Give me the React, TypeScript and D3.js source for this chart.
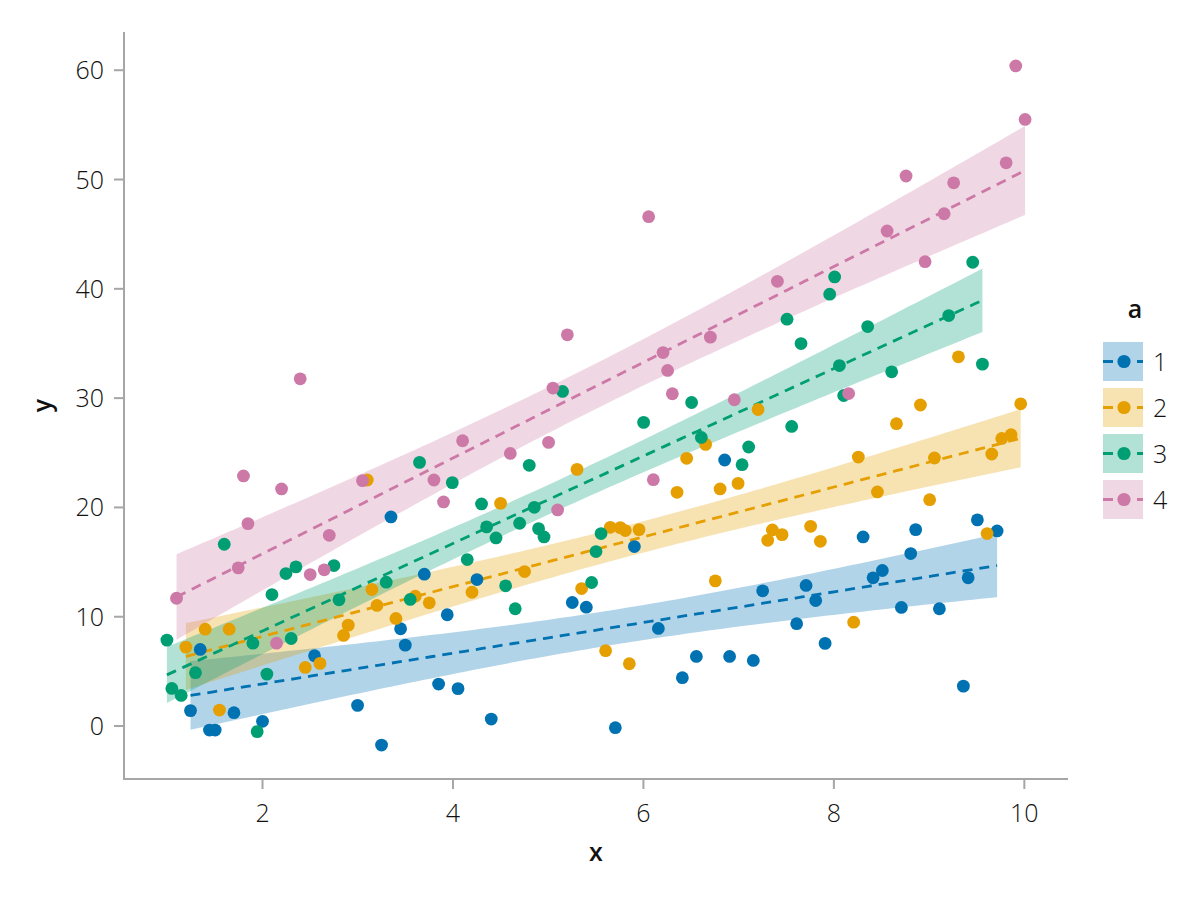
import React from "react";
import * as d3 from "d3";

// ---- data ----
const groupLabels = ["1", "2", "3", "4"];
const groupColors = ["#0072B2", "#E69F00", "#009E73", "#CC79A7"];

const x1 = [1.244, 1.346, 1.443, 1.503, 1.7, 2.0, 2.546, 2.998, 3.25, 3.349, 3.45, 3.499, 3.699, 3.849, 3.94, 4.053, 4.252, 4.402, 5.253, 5.4, 5.705, 5.905, 6.157, 6.409, 6.556, 6.853, 6.905, 7.154, 7.252, 7.609, 7.708, 7.809, 7.908, 8.307, 8.412, 8.509, 8.709, 8.807, 8.859, 9.108, 9.36, 9.41, 9.507, 9.714];
const y1 = [1.41, 7.01, -0.37, -0.37, 1.22, 0.43, 6.43, 1.89, -1.74, 19.13, 8.9, 7.4, 13.89, 3.84, 10.18, 3.42, 13.4, 0.64, 11.3, 10.87, -0.15, 16.42, 8.93, 4.42, 6.37, 24.34, 6.37, 6.0, 12.37, 9.36, 12.86, 11.48, 7.56, 17.3, 13.56, 14.23, 10.85, 15.78, 17.97, 10.73, 3.65, 13.56, 18.86, 17.85];

const x2 = [1.195, 1.398, 1.548, 1.65, 2.449, 2.603, 2.851, 2.9, 3.1, 3.149, 3.202, 3.401, 3.604, 3.751, 4.2, 4.5, 4.752, 5.303, 5.351, 5.603, 5.652, 5.757, 5.81, 5.852, 5.954, 6.353, 6.454, 6.653, 6.755, 6.805, 6.994, 7.204, 7.305, 7.354, 7.456, 7.756, 7.858, 8.208, 8.257, 8.457, 8.657, 8.909, 9.006, 9.056, 9.308, 9.609, 9.658, 9.763, 9.861, 9.962];
const y2 = [7.22, 8.86, 1.46, 8.86, 5.36, 5.73, 8.29, 9.23, 22.51, 12.49, 11.03, 9.84, 11.88, 11.27, 12.24, 20.37, 14.13, 23.48, 12.58, 6.89, 18.18, 18.15, 17.88, 5.7, 17.97, 21.38, 24.49, 25.77, 13.28, 21.69, 22.2, 28.96, 16.99, 17.94, 17.51, 18.27, 16.9, 9.5, 24.61, 21.42, 27.66, 29.37, 20.71, 24.52, 33.78, 17.61, 24.89, 26.31, 26.65, 29.48];

const x3 = [0.996, 1.048, 1.146, 1.296, 1.598, 1.899, 1.944, 2.046, 2.099, 2.246, 2.301, 2.351, 2.75, 2.803, 3.299, 3.551, 3.649, 3.993, 4.15, 4.3, 4.353, 4.452, 4.553, 4.654, 4.7, 4.801, 4.854, 4.899, 4.956, 5.151, 5.456, 5.502, 5.555, 6.002, 6.506, 6.608, 7.036, 7.105, 7.508, 7.557, 7.655, 7.956, 8.008, 8.058, 8.103, 8.355, 8.607, 9.206, 9.458, 9.56];
const y3 = [7.86, 3.44, 2.8, 4.88, 16.63, 7.58, -0.51, 4.75, 12.03, 13.95, 8.01, 14.56, 14.68, 11.55, 13.16, 11.58, 24.12, 22.27, 15.23, 20.32, 18.22, 17.21, 12.83, 10.73, 18.55, 23.85, 20.01, 18.06, 17.3, 30.61, 13.13, 15.96, 17.61, 27.78, 29.6, 26.4, 23.91, 25.53, 37.22, 27.41, 34.99, 39.51, 41.09, 32.98, 30.24, 36.55, 32.41, 37.55, 42.43, 33.11];

const x4 = [1.097, 1.745, 1.8, 1.847, 2.147, 2.2, 2.396, 2.501, 2.648, 2.701, 3.05, 3.8, 3.901, 4.101, 4.602, 5.004, 5.05, 5.099, 5.201, 6.055, 6.104, 6.206, 6.254, 6.304, 6.703, 6.955, 7.407, 8.155, 8.559, 8.758, 8.958, 9.158, 9.258, 9.809, 9.91, 10.008];
const y4 = [11.69, 14.47, 22.88, 18.52, 7.58, 21.69, 31.77, 13.86, 14.29, 17.45, 22.45, 22.51, 20.5, 26.1, 24.94, 25.95, 30.92, 19.77, 35.79, 46.6, 22.54, 34.17, 32.53, 30.4, 35.58, 29.85, 40.69, 30.42, 45.29, 50.32, 42.48, 46.87, 49.7, 51.53, 60.39, 55.5];

const xTicks = [2, 4, 6, 8, 10];
const yTicks = [0, 10, 20, 30, 40, 50, 60];
const xLabel = "x";
const yLabel = "y";
const legendTitle = "a";

const xs = [x1, x2, x3, x4];
const ys = [y1, y2, y3, y4];

// ---- linear fit with 95% confidence band ----
function tQuantile975(df: number) {
  const z = 1.959964;
  return (
    z +
    (z ** 3 + z) / (4 * df) +
    (5 * z ** 5 + 16 * z ** 3 + 3 * z) / (96 * df * df) +
    (3 * z ** 7 + 19 * z ** 5 + 17 * z ** 3 - 15 * z) / (384 * df ** 3)
  );
}

function linearFit(xv: number[], yv: number[]) {
  const n = xv.length;
  const mx = d3.mean(xv)!;
  const my = d3.mean(yv)!;
  let sxx = 0, sxy = 0;
  for (let i = 0; i < n; i++) {
    sxx += (xv[i] - mx) ** 2;
    sxy += (xv[i] - mx) * (yv[i] - my);
  }
  const b = sxy / sxx;
  const a = my - b * mx;
  let sse = 0;
  for (let i = 0; i < n; i++) sse += (yv[i] - a - b * xv[i]) ** 2;
  const s = Math.sqrt(sse / (n - 2));
  const t = tQuantile975(n - 2);
  const [lo, hi] = d3.extent(xv) as [number, number];
  const pts = d3.range(0, 101).map((k) => {
    const x = lo + ((hi - lo) * k) / 100;
    const yhat = a + b * x;
    const se = s * Math.sqrt(1 / n + (x - mx) ** 2 / sxx);
    return { x, y: yhat, lo: yhat - t * se, hi: yhat + t * se };
  });
  return pts;
}

const FONT = "'Open Sans', 'Noto Sans', 'DejaVu Sans', sans-serif";
const AXIS_COLOR = "#a6a6a6";

export default function App() {
  const allX = xs.flat();
  const allY = ys.flat();
  const [xmn, xmx] = d3.extent(allX) as [number, number];
  const [ymn, ymx] = d3.extent(allY) as [number, number];
  const xr = xmx - xmn;
  const yr = ymx - ymn;

  const left = 124, right = 1068, top = 32, bottom = 779;
  const x = d3.scaleLinear().domain([xmn - 0.05 * xr, xmx + 0.05 * xr]).range([left, right]);
  const y = d3.scaleLinear().domain([ymn - 0.05 * yr, ymx + 0.05 * yr]).range([bottom, top]);

  const fits = xs.map((xv, i) => linearFit(xv, ys[i]));
  const area = d3
    .area<{ x: number; lo: number; hi: number }>()
    .x((d) => x(d.x))
    .y0((d) => y(d.lo))
    .y1((d) => y(d.hi));
  const line = d3
    .line<{ x: number; y: number }>()
    .x((d) => x(d.x))
    .y((d) => y(d.y));

  const legX = 1103, legY0 = 342, legStep = 46, boxW = 40, boxH = 39;

  return (
    <svg
      width={1200}
      height={900}
      style={{ position: "absolute", left: 0, top: 0, background: "#fff" }}
      fontFamily={FONT}
    >
      <rect x={0} y={0} width={1200} height={900} fill="#fff" />

      {/* bands */}
      {fits.map((f, i) => (
        <path key={"b" + i} d={area(f) || ""} fill={groupColors[i]} fillOpacity={0.3} stroke="none" />
      ))}
      {/* fit lines */}
      {fits.map((f, i) => (
        <path
          key={"l" + i}
          d={line(f) || ""}
          fill="none"
          stroke={groupColors[i]}
          strokeWidth={2.8}
          strokeDasharray="10,7"
        />
      ))}
      {/* points */}
      {xs.map((xv, i) =>
        xv.map((xx, j) => (
          <circle key={"p" + i + "-" + j} cx={x(xx)} cy={y(ys[i][j])} r={6.4} fill={groupColors[i]} />
        ))
      )}

      {/* axes */}
      <line x1={left} x2={left} y1={top} y2={bottom + 1} stroke={AXIS_COLOR} strokeWidth={2} />
      <line x1={left - 1} x2={right} y1={bottom} y2={bottom} stroke={AXIS_COLOR} strokeWidth={2} />
      {xTicks.map((t) => (
        <g key={"xt" + t}>
          <line x1={x(t)} x2={x(t)} y1={bottom} y2={bottom + 10} stroke={AXIS_COLOR} strokeWidth={2} />
          <text x={x(t)} y={822} textAnchor="middle" fontSize={25} fontWeight={300} fill="#111">
            {t}
          </text>
        </g>
      ))}
      {yTicks.map((t) => (
        <g key={"yt" + t}>
          <line x1={left - 10} x2={left} y1={y(t)} y2={y(t)} stroke={AXIS_COLOR} strokeWidth={2} />
          <text x={104} y={y(t) + 9} textAnchor="end" fontSize={25} fontWeight={300} fill="#111">
            {t}
          </text>
        </g>
      ))}
      <text x={(left + right) / 2} y={861} textAnchor="middle" fontSize={25} fontWeight={600} fill="#111">
        {xLabel}
      </text>
      <text
        transform={`translate(51, ${(top + bottom) / 2}) rotate(-90)`}
        textAnchor="middle"
        fontSize={25}
        fontWeight={600}
        fill="#111"
      >
        {yLabel}
      </text>

      {/* legend */}
      <text x={legX + boxW / 2 + 12} y={318} textAnchor="middle" fontSize={25} fontWeight={600} fill="#111">
        {legendTitle}
      </text>
      {groupLabels.map((g, i) => {
        const by = legY0 + i * legStep;
        const cy = by + boxH / 2;
        return (
          <g key={"lg" + g}>
            <rect x={legX} y={by} width={boxW} height={boxH} fill={groupColors[i]} fillOpacity={0.3} />
            <line
              x1={legX}
              x2={legX + boxW}
              y1={cy}
              y2={cy}
              stroke={groupColors[i]}
              strokeWidth={2.8}
              strokeDasharray="10,7"
            />
            <circle cx={legX + boxW / 2 + 1} cy={cy} r={6.6} fill={groupColors[i]} />
            <text x={1153} y={cy + 9} fontSize={25} fontWeight={300} fill="#111">
              {g}
            </text>
          </g>
        );
      })}
    </svg>
  );
}
